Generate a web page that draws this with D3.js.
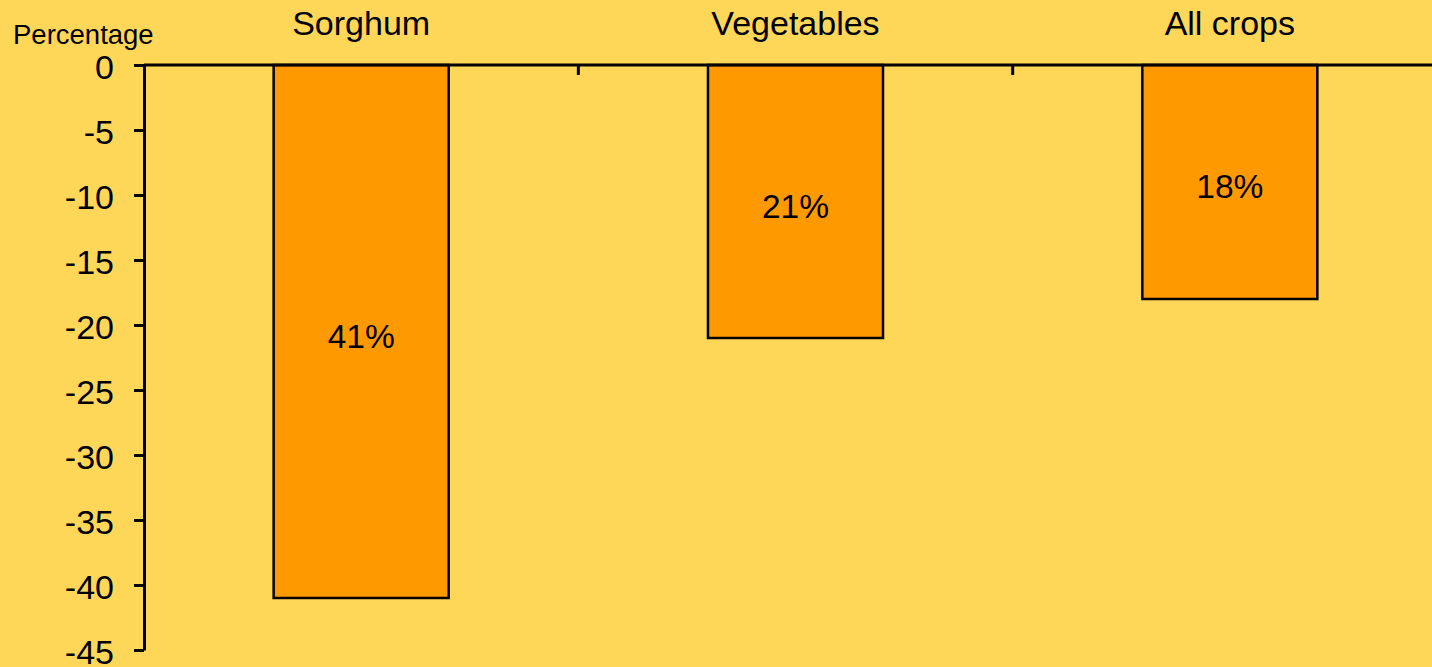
<!DOCTYPE html>
<html>
<head>
<meta charset="utf-8">
<script src="https://cdn.jsdelivr.net/npm/d3@7"></script>
<style>
  body { margin: 0; background: #FFD758; }
  text { font-family: "Liberation Sans", Arial, sans-serif; fill: #000; }
</style>
</head>
<body>
<div id="chart"></div>
<script>
// chart data
var categories = ["Sorghum", "Vegetables", "All crops"];
var values = [-41, -21, -18];
var barLabels = ["41%", "21%", "18%"];
var yTicks = [0, -5, -10, -15, -20, -25, -30, -35, -40, -45];

var width = 1432,
    height = 667;

var svg = d3.select("#chart")
    .append("svg")
    .attr("width", width)
    .attr("height", height);

svg.append("rect")
    .attr("width", width)
    .attr("height", height)
    .attr("fill", "#FFD758");

// scales
var x = d3.scaleBand()
    .domain(categories)
    .range([144, 1447])
    .paddingInner(0)
    .paddingOuter(0);

var y = d3.scaleLinear()
    .domain([0, -45])
    .range([65, 650]);

var barWidth = x.bandwidth() * 0.403;

// bars
svg.selectAll("rect.bar")
    .data(values)
    .enter()
    .append("rect")
    .attr("class", "bar")
    .attr("x", function(d, i) { return x(categories[i]) + x.bandwidth() / 2 - barWidth / 2; })
    .attr("y", y(0))
    .attr("width", barWidth)
    .attr("height", function(d) { return y(d) - y(0); })
    .attr("fill", "#FF9900")
    .attr("stroke", "#000")
    .attr("stroke-width", 2.5);

// value labels inside the bars
svg.selectAll("text.val")
    .data(values)
    .enter()
    .append("text")
    .attr("class", "val")
    .attr("x", function(d, i) { return x(categories[i]) + x.bandwidth() / 2; })
    .attr("y", function(d) { return (y(0) + y(d)) / 2 + 16; })
    .attr("text-anchor", "middle")
    .style("font-size", "33.5px")
    .text(function(d, i) { return barLabels[i]; });

// y axis
var yAxis = d3.axisLeft(y)
    .tickValues(yTicks)
    .tickFormat(function(d) { return String(d); })
    .tickSize(10)
    .tickPadding(20)
    .tickSizeOuter(0);

var gy = svg.append("g")
    .attr("transform", "translate(144,0)")
    .call(yAxis);
gy.select(".domain").attr("stroke", "#000").attr("stroke-width", 3);
gy.selectAll(".tick line").attr("stroke", "#000").attr("stroke-width", 3);
gy.selectAll(".tick text")
    .attr("dy", "0.4em")
    .style("font-size", "34px")
    .style("font-family", "Liberation Sans, Arial, sans-serif");

// x axis along the zero line, labels placed above
var xAxis = d3.axisBottom(x)
    .tickSize(0)
    .tickFormat("");

var gx = svg.append("g")
    .attr("transform", "translate(0," + y(0) + ")")
    .call(xAxis);
gx.select(".domain")
    .attr("d", "M144,0H" + width)
    .attr("stroke", "#000")
    .attr("stroke-width", 3);

// category separators
svg.selectAll("line.sep")
    .data(categories.slice(1))
    .enter()
    .append("line")
    .attr("class", "sep")
    .attr("x1", function(d) { return x(d); })
    .attr("x2", function(d) { return x(d); })
    .attr("y1", y(0))
    .attr("y2", y(0) + 10)
    .attr("stroke", "#000")
    .attr("stroke-width", 3);

// category labels at the top
svg.selectAll("text.cat")
    .data(categories)
    .enter()
    .append("text")
    .attr("class", "cat")
    .attr("x", function(d) { return x(d) + x.bandwidth() / 2; })
    .attr("y", 35)
    .attr("text-anchor", "middle")
    .style("font-size", "34px")
    .text(function(d) { return d; });

// axis title
svg.append("text")
    .attr("x", 13)
    .attr("y", 44)
    .style("font-size", "27.5px")
    .text("Percentage");
</script>
</body>
</html>
